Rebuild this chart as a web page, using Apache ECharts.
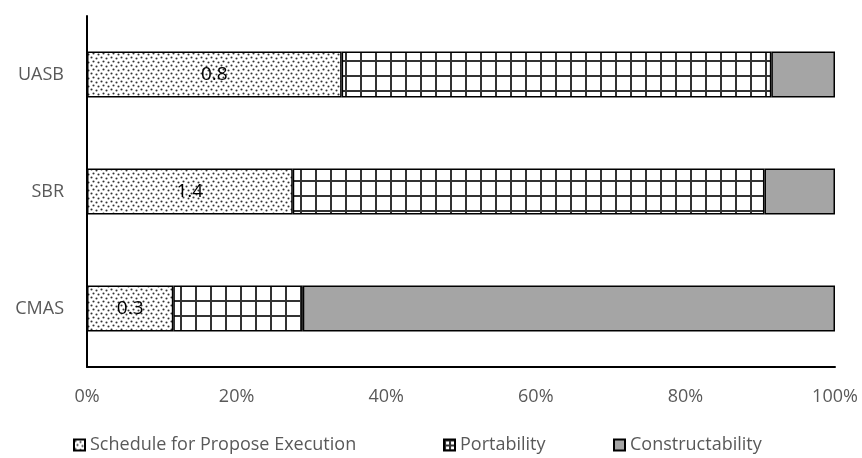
<!DOCTYPE html>
<html><head><meta charset="utf-8">
<script src="https://cdn.jsdelivr.net/npm/echarts@6/dist/echarts.min.js"></script>
<style>html,body{margin:0;padding:0;background:#fff}#c{width:862px;height:458px}</style>
</head><body><div id="c"></div>
<script>
const categories = ['CMAS', 'SBR', 'UASB'];
const seriesNames = ['Schedule for Propose Execution', 'Portability', 'Constructability'];
const scheduleVals = [0.3, 1.4, 0.8];
const portabilityVals = [0.45, 3.21, 1.35];
const constructVals = [1.85, 0.48, 0.2];
const xTicks = [0, 20, 40, 60, 80, 100];

function dotPattern() {
  const c = document.createElement('canvas');
  c.width = 10; c.height = 8;
  const g = c.getContext('2d');
  g.fillStyle = '#fff'; g.fillRect(0, 0, 10, 8);
  g.fillStyle = '#333';
  [[1,1],[6,2],[3,5],[8,6]].forEach(p => { g.beginPath(); g.arc(p[0]+0.5, p[1]+0.5, 1.05, 0, Math.PI*2); g.fill(); });
  return { image: c, repeat: 'repeat' };
}
function gridPattern(size) {
  const c = document.createElement('canvas');
  c.width = size; c.height = size;
  const g = c.getContext('2d');
  g.fillStyle = '#fff'; g.fillRect(0, 0, size, size);
  g.fillStyle = '#333';
  g.fillRect(0, 0, 2, size);
  g.fillRect(0, 0, size, 2);
  return { image: c, repeat: 'repeat' };
}
const fills = [dotPattern(), gridPattern(15), '#a5a5a5'];
const legendFills = [dotPattern(), gridPattern(5), '#a5a5a5'];
const raw = [scheduleVals, portabilityVals, constructVals];
const totals = categories.map((_, i) => raw.reduce((s, a) => s + a[i], 0));
const font = '"Open Sans", sans-serif';

const chart = echarts.init(document.getElementById('c'), null, { renderer: 'canvas' });
const legendLefts = [68, 438, 608];
chart.setOption({
  animation: false,
  grid: { left: 87, right: 27, top: 16, bottom: 91 },
  xAxis: {
    type: 'value', min: 0, max: 100, interval: 20,
    axisLine: { show: true, lineStyle: { color: '#000', width: 2 } },
    axisTick: { show: false },
    splitLine: { show: false },
    axisLabel: { formatter: v => xTicks.includes(v) ? v + '%' : '', color: '#595959', fontSize: 18, fontFamily: font, margin: 21 }
  },
  yAxis: {
    type: 'category', data: categories,
    axisLine: { show: true, lineStyle: { color: '#000', width: 2 } },
    axisTick: { show: false },
    axisLabel: { color: '#595959', fontSize: 18, fontFamily: font, margin: 23 }
  },
  legend: seriesNames.map((n, i) => ({
    data: [{ name: n, itemStyle: { color: legendFills[i], borderColor: '#000', borderWidth: 2 } }],
    left: legendLefts[i], top: 431, itemWidth: 11, itemHeight: 11,
    icon: 'rect',
    textStyle: { color: '#595959', fontSize: 18, fontFamily: font }
  })),
  series: seriesNames.map((n, si) => ({
    name: n, type: 'bar', stack: 'total', barWidth: 46,
    itemStyle: { color: fills[si], borderColor: '#000', borderWidth: 1.5 },
    label: si === 0 ? {
      show: true, position: 'inside', color: '#000', fontSize: 19, fontFamily: font,
      formatter: p => String(raw[0][p.dataIndex])
    } : { show: false },
    data: raw[si].map((v, i) => v / totals[i] * 100)
  }))
});
</script></body></html>
